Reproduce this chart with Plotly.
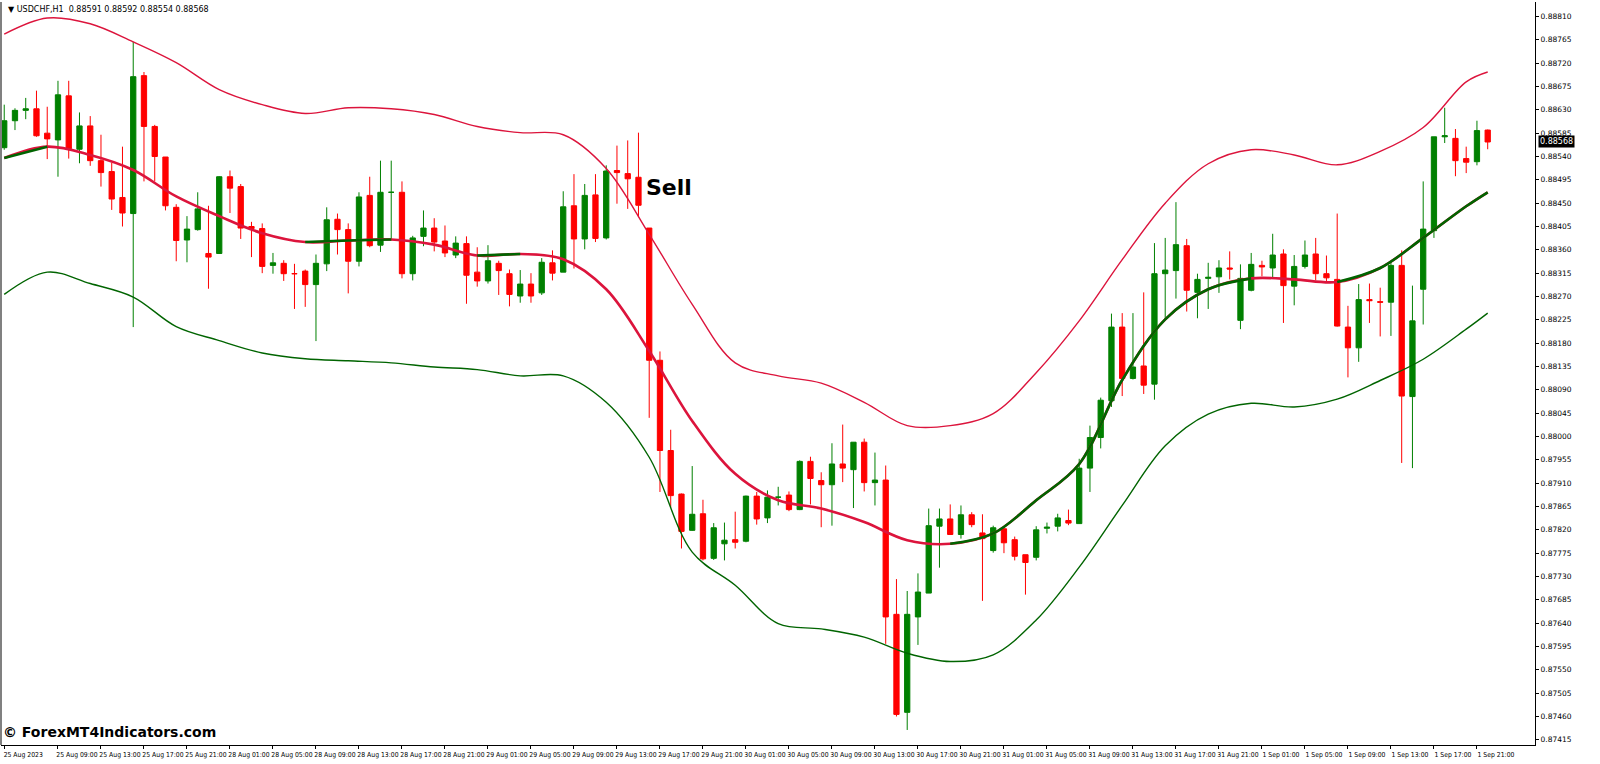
import plotly.graph_objects as go
import pandas as pd

# USDCHF H1, prices in points (1e-5)
opens = [88557, 88609, 88629, 88632, 88585, 88572, 88657, 88554, 88599, 88532,
         88511, 88461, 88430, 88696, 88598, 88539, 88442, 88379, 88399, 88353,
         88353, 88501, 88482, 88405, 88401, 88330, 88334, 88314, 88319, 88293,
         88333, 88419, 88399, 88338, 88465, 88369, 88471, 88471, 88314, 88386,
         88402, 88377, 88350, 88372, 88317, 88300, 88334, 88314, 88271, 88294,
         88277, 88335, 88317, 88445, 88381, 88466, 88383, 88513, 88507, 88500,
         88402, 88147, 87973, 87889, 87819, 87851, 87765, 87793, 87801, 87798,
         87885, 87843, 87883, 87887, 87859, 87952, 87915, 87907, 87947, 87936,
         87989, 87911, 87916, 87657, 87468, 87652, 87698, 87827, 87841, 87811,
         87849, 87814, 87780, 87822, 87801, 87772, 87767, 87823, 87827, 87838,
         87832, 87939, 87998, 88069, 88211, 88112, 88136, 88101, 88314, 88320,
         88368, 88278, 88305, 88308, 88325, 88224, 88282, 88330, 88325, 88352,
         88290, 88328, 88352, 88314, 88303, 88211, 88171, 88264, 88260, 88259,
         88330, 88077, 88284, 88397, 88578, 88575, 88536, 88530, 88591]
highs = [88640, 88633, 88653, 88667, 88636, 88686, 88686, 88625, 88618, 88582,
         88528, 88559, 88761, 88703, 88601, 88539, 88448, 88425, 88471, 88445,
         88502, 88513, 88487, 88414, 88411, 88354, 88340, 88333, 88322, 88351,
         88442, 88430, 88411, 88471, 88501, 88532, 88532, 88492, 88387, 88436,
         88421, 88407, 88386, 88386, 88365, 88369, 88339, 88322, 88321, 88315,
         88344, 88359, 88473, 88506, 88487, 88506, 88523, 88561, 88571, 88586,
         88402, 88164, 88013, 87890, 87943, 87878, 87833, 87834, 87855, 87886,
         87893, 87896, 87903, 87894, 87954, 87961, 87931, 87987, 88023, 87989,
         87996, 87969, 87944, 87725, 87702, 87736, 87861, 87861, 87869, 87867,
         87854, 87850, 87828, 87825, 87807, 87772, 87827, 87834, 87851, 87859,
         87957, 88021, 88075, 88237, 88238, 88238, 88278, 88373, 88383, 88452,
         88381, 88314, 88335, 88340, 88357, 88332, 88354, 88339, 88391, 88361,
         88350, 88378, 88383, 88349, 88430, 88252, 88294, 88295, 88287, 88338,
         88359, 88291, 88492, 88578, 88634, 88593, 88559, 88609, 88592]
lows = [88553, 88591, 88612, 88578, 88535, 88501, 88536, 88527, 88522, 88482,
        88437, 88405, 88211, 88492, 88492, 88436, 88338, 88336, 88397, 88285,
        88352, 88431, 88381, 88346, 88315, 88314, 88300, 88246, 88250, 88184,
        88319, 88351, 88276, 88328, 88365, 88356, 88378, 88305, 88301, 88367,
        88357, 88346, 88344, 88256, 88289, 88295, 88273, 88251, 88258, 88258,
        88273, 88301, 88317, 88324, 88361, 88375, 88380, 88449, 88439, 88423,
        88036, 87893, 87863, 87784, 87818, 87761, 87762, 87761, 87784, 87796,
        87830, 87833, 87867, 87856, 87858, 87869, 87825, 87828, 87912, 87862,
        87894, 87867, 87600, 87460, 87434, 87598, 87698, 87747, 87811, 87803,
        87825, 87683, 87776, 87775, 87761, 87695, 87761, 87813, 87817, 87829,
        87832, 87893, 87977, 88057, 88078, 88110, 88082, 88071, 88224, 88266,
        88241, 88228, 88246, 88277, 88303, 88207, 88280, 88309, 88307, 88219,
        88253, 88324, 88301, 88296, 88212, 88114, 88144, 88219, 88193, 88194,
        87949, 87939, 88216, 88383, 88566, 88502, 88508, 88523, 88554]
closes = [88609, 88629, 88632, 88580, 88574, 88659, 88555, 88599, 88532, 88509,
          88458, 88431, 88694, 88598, 88540, 88445, 88378, 88400, 88439, 88346,
          88501, 88479, 88402, 88401, 88328, 88335, 88314, 88314, 88293, 88334,
          88418, 88399, 88338, 88462, 88368, 88471, 88471, 88314, 88383, 88402,
          88375, 88354, 88373, 88311, 88300, 88339, 88320, 88274, 88294, 88271,
          88336, 88315, 88443, 88381, 88465, 88382, 88512, 88509, 88497, 88446,
          88147, 87973, 87886, 87817, 87850, 87764, 87824, 87800, 87796, 87885,
          87841, 87883, 87883, 87859, 87952, 87919, 87907, 87947, 87939, 87989,
          87911, 87916, 87652, 87464, 87657, 87700, 87828, 87841, 87811, 87849,
          87830, 87803, 87824, 87795, 87769, 87757, 87820, 87825, 87843, 87833,
          87939, 87998, 88070, 88211, 88112, 88134, 88099, 88314, 88321, 88370,
          88282, 88303, 88307, 88325, 88323, 88305, 88332, 88327, 88350, 88291,
          88328, 88350, 88314, 88306, 88213, 88171, 88264, 88262, 88259, 88330,
          88078, 88223, 88400, 88578, 88580, 88532, 88529, 88590, 88568]

# Bollinger-style bands, sampled every 4 bars
band_idx = [0, 4, 8, 12, 16, 20, 24, 28, 32, 36, 40, 44, 48, 52, 56, 60, 64, 68,
            72, 76, 80, 84, 88, 92, 96, 100, 104, 108, 112, 116, 120, 124, 128,
            132, 136, 138]
upper = [88776, 88807, 88796, 88761, 88721, 88669, 88640, 88623, 88634, 88632,
         88621, 88598, 88586, 88582, 88517, 88390, 88255, 88142, 88117, 88103,
         88066, 88021, 88021, 88044, 88123, 88223, 88341, 88450, 88526, 88553,
         88543, 88524, 88550, 88596, 88684, 88703]
middle = [88537, 88559, 88543, 88514, 88463, 88425, 88392, 88375, 88378, 88380,
          88370, 88349, 88352, 88342, 88284, 88165, 88030, 87928, 87877, 87861,
          87835, 87800, 87793, 87813, 87877, 87947, 88109, 88226, 88284, 88305,
          88303, 88298, 88325, 88383, 88444, 88471]
lower = [88274, 88317, 88295, 88269, 88212, 88185, 88161, 88150, 88146, 88142,
         88134, 88129, 88117, 88117, 88066, 87960, 87777, 87713, 87639, 87629,
         87613, 87582, 87566, 87579, 87646, 87748, 87867, 87982, 88043, 88064,
         88057, 88072, 88108, 88149, 88207, 88238]

current_price = 0.88568
price_ticks = [0.87415 + 0.00045 * k for k in range(32)]

S = 1e5
o = [v / S for v in opens]
h = [v / S for v in highs]
l = [v / S for v in lows]
c = [v / S for v in closes]
n = len(c)
xs = list(range(n))
mid = [v / S for v in middle]

times = pd.date_range("2023-08-25 04:00", "2023-09-01 21:00", freq="h")
times = [t for t in times if t.weekday() < 5]
tickvals = [0] + list(range(5, n, 4))
ticktext = ["25 Aug 2023"] + [f"{times[i].day} {times[i]:%b %H:%M}" for i in tickvals[1:]]

fig = go.Figure()
fig.add_trace(go.Candlestick(
    x=xs, open=o, high=h, low=l, close=c,
    increasing=dict(line=dict(color="#008000", width=1), fillcolor="#008000"),
    decreasing=dict(line=dict(color="#ff0000", width=1), fillcolor="#ff0000"),
    whiskerwidth=0, showlegend=False,
))

fig.add_trace(go.Scatter(x=band_idx, y=[v / S for v in upper], mode="lines",
                         line=dict(color="#dc143c", width=1.4, shape="spline"), showlegend=False))
fig.add_trace(go.Scatter(x=band_idx, y=[v / S for v in lower], mode="lines",
                         line=dict(color="#006400", width=1.4, shape="spline"), showlegend=False))

# middle band: red everywhere, green over rising runs
fig.add_trace(go.Scatter(x=band_idx, y=mid, mode="lines",
                         line=dict(color="#dc143c", width=2.6, shape="spline"), showlegend=False))
runs, cur = [], []
for k in range(len(band_idx) - 1):
    if middle[k + 1] >= middle[k]:
        if not cur:
            cur = [k]
        cur.append(k + 1)
    elif cur:
        runs.append(cur); cur = []
if cur:
    runs.append(cur)
for run in runs:
    fig.add_trace(go.Scatter(x=[band_idx[k] for k in run], y=[mid[k] for k in run], mode="lines",
                             line=dict(color="#006400", width=2.6, shape="spline"),
                             showlegend=False))

fig.add_hline(y=current_price, line=dict(color="#c8c8c8", width=1))

fig.add_annotation(x=59, y=0.88480, text="<b>Sell</b>", showarrow=False, xanchor="left",
                   font=dict(family="DejaVu Sans", size=22, color="black"), xshift=6)
fig.add_annotation(xref="paper", yref="y", x=1, y=current_price, text="0.88568",
                   showarrow=False, xanchor="left", bgcolor="black",
                   font=dict(family="DejaVu Sans", size=8, color="white"), xshift=3, borderpad=1)
fig.add_annotation(xref="paper", yref="paper", x=0.003, y=0.998, xanchor="left", yanchor="top",
                   text="\u25bc USDCHF,H1  0.88591 0.88592 0.88554 0.88568", showarrow=False,
                   font=dict(family="DejaVu Sans", size=8, color="black"))
fig.add_annotation(xref="paper", yref="paper", x=0.0, y=0.0, xanchor="left", yanchor="bottom",
                   text="<b>\u00a9 ForexMT4Indicators.com</b>", showarrow=False, yshift=3,
                   font=dict(family="DejaVu Sans", size=14, color="black"))

fig.update_layout(
    width=1600, height=764,
    margin=dict(l=1, r=65, t=2, b=19, autoexpand=False),
    paper_bgcolor="white", plot_bgcolor="white",
    font=dict(family="DejaVu Sans", size=8, color="black"),
    xaxis=dict(range=[-0.3, 142.4], rangeslider=dict(visible=False), tickvals=tickvals,
               ticktext=ticktext, ticks="outside", ticklen=3, tickcolor="black",
               showline=True, linecolor="black", showgrid=False, zeroline=False,
               tickangle=0, ticklabelshift=19, automargin=False,
               tickfont=dict(family="Liberation Sans Narrow, DejaVu Sans Condensed, Liberation Sans",
                             size=6.8)),
    yaxis=dict(range=[0.87405, 0.88838], side="right", tickvals=price_ticks,
               tickformat=".5f", ticks="outside", ticklen=3, tickcolor="black",
               showline=True, linecolor="black", showgrid=False, zeroline=False,
               automargin=False, tickfont=dict(size=7.5)),
    shapes=[dict(type="line", xref="paper", yref="paper", x0=0, x1=0, y0=0, y1=1,
                 line=dict(color="#808080", width=2))],
)

fig.write_html("out.html", config={"displayModeBar": False},
               post_script="document.body.style.margin='0';document.body.style.overflow='hidden';")
